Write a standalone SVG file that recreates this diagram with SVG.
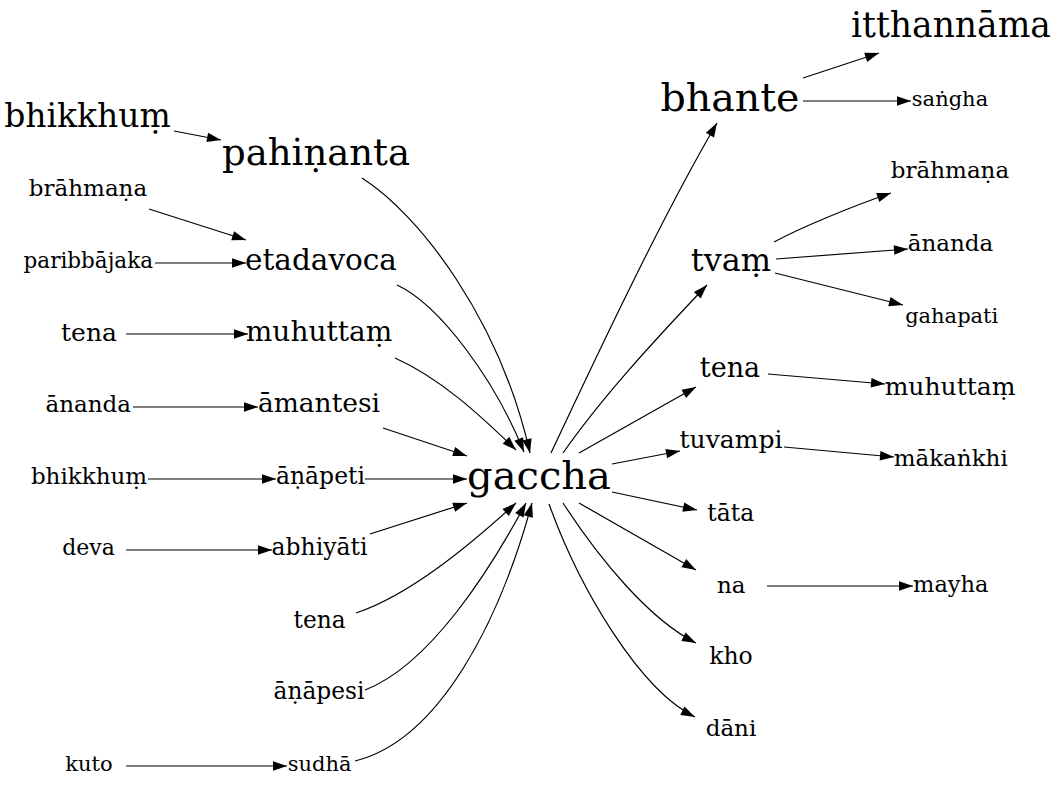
<svg xmlns="http://www.w3.org/2000/svg" width="1057" height="796" viewBox="0 0 1057 796">
<style>
text{font-family:"DejaVu Serif","Liberation Serif",serif;fill:#000;text-anchor:middle}
.e{fill:none;stroke:#000;stroke-width:1.2;marker-end:url(#ah)}
</style>
<defs>
<marker id="ah" markerUnits="userSpaceOnUse" markerWidth="15" markerHeight="11" refX="14" refY="4.75" orient="auto" overflow="visible">
<path d="M0,0 L14,4.75 L0,9.5 z" fill="#000"/>
</marker>
</defs>
<rect width="1057" height="796" fill="#fff"/>
<g id="connectors">
<path class="e" d="M174,131 L221,140"/>
<path class="e" d="M149,209 L246,240"/>
<path class="e" d="M155,263 L246,263"/>
<path class="e" d="M126,334 L248,334"/>
<path class="e" d="M133,407 L258,407"/>
<path class="e" d="M148,479 L276,479"/>
<path class="e" d="M126,550 L272,550"/>
<path class="e" d="M126,766 L287,766"/>
<path class="e" d="M362,178 C420,215 500,320 530,453"/>
<path class="e" d="M397,285 C440,305 495,380 524,452"/>
<path class="e" d="M395,358 C440,378 480,415 516,450"/>
<path class="e" d="M383,428 L467,456"/>
<path class="e" d="M365,479 L467,479"/>
<path class="e" d="M370,534 L467,503"/>
<path class="e" d="M356,613 C410,595 470,545 516,503"/>
<path class="e" d="M365,690 C430,665 490,570 526,503"/>
<path class="e" d="M355,761 C440,740 500,620 532,503"/>
<path class="e" d="M551,453 C590,370 660,220 717,123"/>
<path class="e" d="M563,453 C600,400 650,345 707,285"/>
<path class="e" d="M579,453 L696,387"/>
<path class="e" d="M612,464 L680,451"/>
<path class="e" d="M612,492 L697,510"/>
<path class="e" d="M579,503 L696,570"/>
<path class="e" d="M563,503 C600,560 650,620 696,643"/>
<path class="e" d="M549,504 C580,590 640,690 695,717"/>
<path class="e" d="M803,78 L879,53"/>
<path class="e" d="M803,101 L911,101"/>
<path class="e" d="M774,242 C800,228 850,207 891,193"/>
<path class="e" d="M776,259 L908,249"/>
<path class="e" d="M775,273 L903,305"/>
<path class="e" d="M768,374 L885,384"/>
<path class="e" d="M784,447 L894,457"/>
<path class="e" d="M767,586 L913,586"/>
</g>
<g id="n_bhikkhum1"><text x="87.5" y="127" font-size="33">bhikkhuṃ</text></g>
<g id="n_pahinanta"><text x="316" y="165" font-size="37">pahiṇanta</text></g>
<g id="n_brahmana1"><text x="88" y="196" font-size="23">brāhmaṇa</text></g>
<g id="n_paribbajaka"><text x="88.3" y="268" font-size="21.5">paribbājaka</text></g>
<g id="n_etadavoca"><text x="321" y="270" font-size="29.5">etadavoca</text></g>
<g id="n_tena1"><text x="89" y="341" font-size="25">tena</text></g>
<g id="n_muhuttam1"><text x="319" y="341" font-size="28">muhuttaṃ</text></g>
<g id="n_ananda1"><text x="88.3" y="412" font-size="23">ānanda</text></g>
<g id="n_amantesi"><text x="319" y="412" font-size="26.5">āmantesi</text></g>
<g id="n_bhikkhum2"><text x="89" y="483.5" font-size="23">bhikkhuṃ</text></g>
<g id="n_anapeti"><text x="320.5" y="483.5" font-size="23.5">āṇāpeti</text></g>
<g id="n_gaccha"><text x="539" y="489" font-size="40">gaccha</text></g>
<g id="n_deva"><text x="88.5" y="555" font-size="22">deva</text></g>
<g id="n_abhiyati"><text x="319.5" y="555" font-size="23.5">abhiyāti</text></g>
<g id="n_tena2"><text x="319.6" y="628" font-size="23.3">tena</text></g>
<g id="n_anapesi"><text x="319" y="699" font-size="23.3">āṇāpesi</text></g>
<g id="n_kuto"><text x="89" y="771" font-size="21">kuto</text></g>
<g id="n_sudha"><text x="319.6" y="771" font-size="21">sudhā</text></g>
<g id="n_bhante"><text x="730" y="111" font-size="39.5">bhante</text></g>
<g id="n_itthannama"><text x="951" y="37" font-size="34.5">itthannāma</text></g>
<g id="n_sangha"><text x="950" y="106" font-size="21">saṅgha</text></g>
<g id="n_brahmana2"><text x="950" y="178" font-size="23">brāhmaṇa</text></g>
<g id="n_tvam"><text x="731" y="270.7" font-size="32">tvaṃ</text></g>
<g id="n_ananda2"><text x="950.5" y="250.7" font-size="23">ānanda</text></g>
<g id="n_gahapati"><text x="951.7" y="322.7" font-size="21">gahapati</text></g>
<g id="n_tena3"><text x="730" y="377" font-size="27">tena</text></g>
<g id="n_muhuttam2"><text x="950" y="395" font-size="25">muhuttaṃ</text></g>
<g id="n_tuvampi"><text x="731" y="448.3" font-size="25">tuvampi</text></g>
<g id="n_makankhi"><text x="950.7" y="466" font-size="23">mākaṅkhi</text></g>
<g id="n_tata"><text x="730.7" y="520.7" font-size="23.5">tāta</text></g>
<g id="n_na"><text x="731.3" y="592.7" font-size="23">na</text></g>
<g id="n_mayha"><text x="950.8" y="592" font-size="22.5">mayha</text></g>
<g id="n_kho"><text x="731" y="664" font-size="23.5">kho</text></g>
<g id="n_dani"><text x="731" y="736" font-size="23">dāni</text></g>
</svg>
